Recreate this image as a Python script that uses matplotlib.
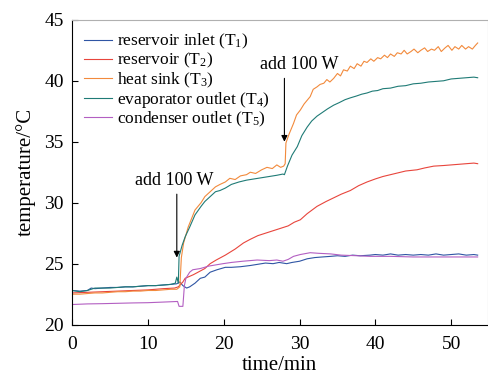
import matplotlib
matplotlib.use("Agg")
import matplotlib.pyplot as plt

plt.rcParams["font.family"] = ["Liberation Serif", "DejaVu Serif"]
plt.rcParams["mathtext.fontset"] = "custom"
plt.rcParams["mathtext.rm"] = "Liberation Serif"
plt.rcParams["mathtext.it"] = "Liberation Serif:italic"

# === Daten ===
t_inlet = [0, 1, 2, 2.5, 3, 4, 5, 6, 7, 8, 9, 10, 11, 12, 13, 13.8, 14.2,
           14.6, 15.1, 15.5, 16.2, 16.9, 17.5, 18.2, 19.1, 20.2, 21, 22.2,
           23.5, 24.5, 25.5, 26.5, 27.3, 28.3, 29, 30, 31, 32, 33, 34.1, 35,
           36, 37, 38, 39.3, 40, 41, 42, 43, 44, 45, 46, 47, 48, 49, 50, 51,
           52, 53, 53.5]
T_inlet = [22.8, 22.75, 22.8, 23.0, 22.95, 23.0, 23.05, 23.05, 23.1, 23.1,
           23.15, 23.2, 23.2, 23.25, 23.3, 23.35, 23.5, 23.2, 23.0, 23.1,
           23.4, 23.8, 23.9, 24.3, 24.5, 24.7, 24.7, 24.75, 24.85, 24.95,
           25.05, 25.0, 25.1, 25.0, 25.1, 25.2, 25.4, 25.5, 25.55, 25.6,
           25.65, 25.6, 25.7, 25.65, 25.7, 25.75, 25.7, 25.8, 25.7, 25.75,
           25.7, 25.75, 25.7, 25.8, 25.7, 25.75, 25.8, 25.7, 25.75, 25.7]

t_res = [0, 2, 4, 6, 8, 10, 12, 13.5, 14.0, 14.6, 14.9, 16, 17.5, 18.2, 19,
         20.2, 21.5, 22.6, 23.5, 24.5, 25.5, 26.5, 27.5, 28.5, 29.3, 30.1,
         31, 32.3, 33.5, 34.5, 35.5, 36.7, 37.8, 38.9, 40, 41, 42, 43, 44,
         45.5, 46.5, 47.7, 49, 50, 51, 52, 53, 53.5]
T_res = [22.6, 22.65, 22.7, 22.75, 22.8, 22.85, 22.95, 23.0, 23.1, 23.5,
         23.8, 24.1, 24.6, 25.0, 25.3, 25.7, 26.2, 26.7, 27.0, 27.3, 27.5,
         27.7, 27.9, 28.1, 28.4, 28.6, 29.1, 29.7, 30.1, 30.4, 30.7, 31.0,
         31.4, 31.7, 31.95, 32.15, 32.3, 32.45, 32.6, 32.7, 32.85, 33.0,
         33.05, 33.1, 33.15, 33.2, 33.25, 33.2]

t_sink = [0, 1, 2, 3, 4, 5, 6, 7, 8, 9, 10, 11, 12, 13, 13.8, 14.2, 14.4,
          14.7, 15.3, 16.2, 17.0, 17.5, 18.2, 18.9, 19.5, 20.2, 20.8, 21.5,
          22.2, 23.0, 23.5, 24.2, 25.0, 25.7, 26.4, 27.0, 27.5, 27.9, 28.1,
          28.2, 28.6, 29.2, 29.6, 30.1, 30.6, 31.0, 31.4, 31.8, 32.3, 32.7,
          33.2, 33.6, 34.0, 34.5, 35.0, 35.4, 35.8, 36.3, 36.7, 37.2, 37.6,
          38.1, 38.5, 38.9, 39.4, 39.8, 40.3, 40.7, 41.2, 41.6, 42.0, 42.5,
          42.9, 43.4, 43.8, 44.2, 44.7, 45.1, 45.6, 46.0, 46.5, 46.9, 47.4,
          47.8, 48.3, 48.7, 49.2, 49.6, 50.1, 50.5, 51.0, 51.4, 51.9, 52.3,
          52.8, 53.2, 53.5]
T_sink = [22.5, 22.5, 22.55, 22.6, 22.6, 22.65, 22.7, 22.7, 22.75, 22.75,
          22.8, 22.8, 22.85, 22.9, 22.9, 23.1, 25.5, 26.7, 28.0, 29.4, 30.0,
          30.5, 30.9, 31.3, 31.5, 31.7, 32.0, 31.9, 32.2, 32.3, 32.5, 32.4,
          32.7, 32.9, 32.8, 33.1, 32.9, 33.0, 33.2, 34.9, 35.6, 36.5, 37.2,
          37.6, 38.1, 38.4, 38.7, 39.3, 39.5, 39.7, 39.8, 40.1, 39.9, 40.2,
          40.6, 40.4, 40.9, 40.8, 41.2, 41.0, 41.4, 41.2, 41.6, 41.5, 41.8,
          41.6, 41.9, 41.8, 42.1, 41.9, 42.2, 42.0, 42.3, 42.2, 42.5, 42.2,
          42.4, 42.6, 42.3, 42.5, 42.7, 42.4, 42.6, 42.5, 42.8, 42.4, 42.7,
          42.9, 42.5, 42.8, 42.6, 42.9, 42.6, 42.8, 42.6, 42.9, 43.1]

t_evap = [0, 1, 2, 3, 4, 5, 6, 7, 8, 9, 10, 11, 12, 13, 13.6, 13.8, 14.0,
          14.1, 14.5, 14.9, 15.5, 16.2, 17.0, 17.5, 18.2, 18.9, 19.5, 20.2,
          21, 22, 23, 24, 25, 26, 27, 27.8, 28.0, 28.4, 29.0, 29.7, 30.3,
          31.0, 31.6, 32.3, 33.0, 33.7, 34.5, 35.2, 36.0, 36.7, 37.5, 38.2,
          38.9, 39.6, 40.3, 41.0, 42.0, 43.0, 44.0, 45.0, 46.0, 47.0, 48.0,
          49.0, 50.0, 51.0, 52.0, 53.0, 53.5]
T_evap = [22.8, 22.7, 22.8, 23.0, 23.0, 23.0, 23.05, 23.1, 23.1, 23.15,
          23.2, 23.2, 23.25, 23.3, 23.4, 23.9, 23.4, 25.6, 26.5, 27.2, 28.0,
          29.0, 29.7, 30.1, 30.5, 30.9, 31.0, 31.2, 31.5, 31.7, 31.85, 31.95,
          32.05, 32.15, 32.25, 32.35, 32.3, 33.0, 33.9, 34.6, 35.5, 36.2,
          36.7, 37.1, 37.4, 37.7, 38.0, 38.2, 38.45, 38.6, 38.75, 38.9, 39.0,
          39.15, 39.2, 39.35, 39.4, 39.55, 39.6, 39.75, 39.8, 39.9, 39.95,
          40.0, 40.15, 40.2, 40.25, 40.3, 40.25]

t_cond = [0, 2, 4, 6, 8, 10, 12, 13.9, 14.1, 14.6, 14.8, 15.0, 15.5, 15.9,
          16.9, 18, 19.9, 21, 22.5, 24.4, 26, 27, 27.8, 28.5, 29.2, 30.1,
          31.4, 32.5, 34.1, 35.5, 37.6, 39.3, 42, 45, 48, 51, 53.5]
T_cond = [21.65, 21.7, 21.72, 21.75, 21.78, 21.8, 21.85, 21.9, 21.5, 21.5,
          23.2, 23.8, 24.3, 24.5, 24.6, 24.8, 25.0, 25.1, 25.2, 25.3, 25.25,
          25.3, 25.2, 25.35, 25.6, 25.75, 25.9, 25.85, 25.8, 25.7, 25.65,
          25.6, 25.6, 25.55, 25.55, 25.55, 25.55]

series = [
    (t_inlet, T_inlet, "#2f55a4", r"reservoir inlet (T$_{\mathrm{1}}$)"),
    (t_res, T_res, "#e8453c", r"reservoir (T$_{\mathrm{2}}$)"),
    (t_sink, T_sink, "#f28a3c", r"heat sink (T$_{\mathrm{3}}$)"),
    (t_evap, T_evap, "#1f7b76", r"evaporator outlet (T$_{\mathrm{4}}$)"),
    (t_cond, T_cond, "#b35fc2", r"condenser outlet (T$_{\mathrm{5}}$)"),
]

# === Plot ===
fig = plt.figure(figsize=(4.88, 3.74), dpi=100)
ax = fig.add_axes([0.148, 0.132, 0.851, 0.815])

for t, T, color, label in series:
    ax.plot(t, T, color=color, linewidth=0.8, label=label)

# Pfeile "add 100 W"
arrow = dict(arrowstyle="-|>", color="black", lw=0.8, mutation_scale=9,
             shrinkA=0, shrinkB=0)
ax.annotate("", xy=(13.8, 25.5), xytext=(13.8, 30.7), arrowprops=arrow)
ax.text(13.5, 31.1, "add 100 W", fontsize=13, ha="center", va="bottom")
ax.annotate("", xy=(28.0, 35.0), xytext=(28.0, 40.2), arrowprops=arrow)
ax.text(29.9, 40.6, "add 100 W", fontsize=13, ha="center", va="bottom")

ax.set_xlim(0, 54.8)
ax.set_ylim(20, 45)
ax.set_xticks([0, 10, 20, 30, 40, 50])
ax.set_yticks([20, 25, 30, 35, 40, 45])
ax.tick_params(direction="in", length=4.5, width=0.8, labelsize=14,
               top=False, right=False)
ax.tick_params(axis="x", pad=8)
ax.tick_params(axis="y", pad=6)
ax.set_xlabel("time/min", fontsize=15, labelpad=2)
ax.set_ylabel("temperature/°C", fontsize=15, labelpad=6)

for side in ("top", "right"):
    ax.spines[side].set_color("#b0b0b0")
for side in ("left", "bottom"):
    ax.spines[side].set_color("black")

ax.legend(loc="upper left", frameon=False, fontsize=12.5, handlelength=1.6,
          handletextpad=0.3, labelspacing=0.0, borderaxespad=0.3,
          bbox_to_anchor=(0.0, 1.0))

fig.savefig("out.png", dpi=100)
